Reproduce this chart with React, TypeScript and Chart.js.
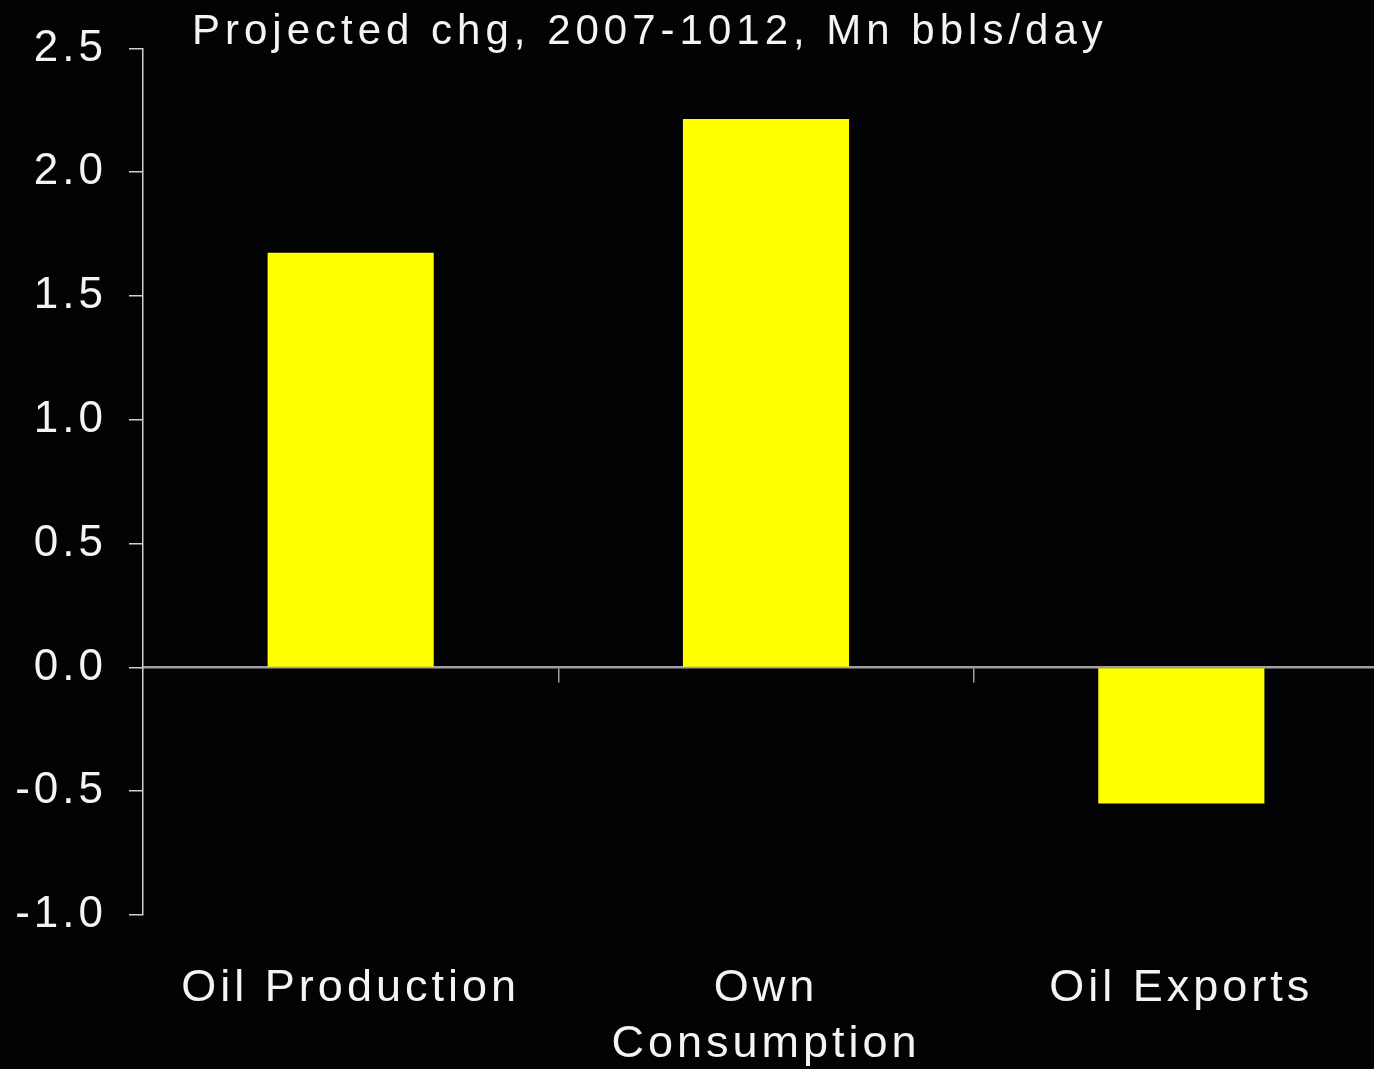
import React, { useEffect, useRef } from "react";
import { Chart, registerables } from "chart.js";

Chart.register(...registerables);

const categories: (string | string[])[] = ["Oil Production", ["Own", "Consumption"], "Oil Exports"];
const changeValues: number[] = [1.675, 2.215, -0.55];
const chartTitle = "Projected chg, 2007-1012, Mn bbls/day";
const yMin = -1.0;
const yMax = 2.5;
const yStep = 0.5;

const FONT = "'Liberation Sans', Arial, sans-serif";
const BG = "#030306";
const TEXT = "#f4f4f4";

export default function App() {
  const ref = useRef<HTMLCanvasElement | null>(null);

  useEffect(() => {
    document.body.style.margin = "0";
    document.body.style.background = BG;
    document.body.style.overflow = "hidden";
    const canvas = ref.current;
    if (!canvas) return;

    const spacingPlugin = {
      id: "spacing",
      beforeUpdate(chart: any) {
        (chart.ctx as any).letterSpacing = "4px";
      },
      beforeDraw(chart: any) {
        const ctx = chart.ctx;
        (ctx as any).letterSpacing = "4px";
        ctx.save();
        ctx.fillStyle = BG;
        ctx.fillRect(0, 0, chart.width, chart.height);
        ctx.restore();
      },
      afterDraw(chart: any) {
        const ctx = chart.ctx;
        ctx.save();
        (ctx as any).letterSpacing = "5px";
        ctx.fillStyle = TEXT;
        ctx.font = `42px ${FONT}`;
        ctx.textAlign = "left";
        ctx.textBaseline = "alphabetic";
        ctx.fillText(chartTitle, chart.chartArea.left + 49, 44);
        ctx.restore();
      },
    };

    const chart = new Chart(canvas, {
      type: "bar",
      data: {
        labels: categories as any,
        datasets: [
          {
            data: changeValues,
            backgroundColor: "#ffff00",
            borderWidth: 0,
            barPercentage: 0.4,
            categoryPercentage: 1.0,
            xAxisID: "x",
            yAxisID: "y",
          },
        ],
      },
      options: {
        animation: false,
        responsive: true,
        maintainAspectRatio: false,
        layout: { padding: { top: 48, left: 0, right: 0, bottom: 0 } },
        plugins: {
          legend: { display: false },
          tooltip: { enabled: false },
          title: { display: false },
        },
        scales: {
          x: {
            type: "category",
            position: "bottom",
            grid: { display: false, drawTicks: false },
            border: { display: false },
            ticks: {
              color: TEXT,
              font: { family: FONT, size: 45, lineHeight: 1.25 },
              padding: 45,
              maxRotation: 0,
              autoSkip: false,
            },
            afterFit: (scale: any) => {
              scale.height = 154;
            },
          },
          x2: {
            type: "category",
            labels: categories as any,
            position: { y: 0 } as any,
            offset: true,
            grid: {
              display: true,
              offset: true,
              drawOnChartArea: false,
              drawTicks: true,
              tickLength: 14,
              color: (c: any) => (c.index === 0 ? "rgba(0,0,0,0)" : "#a0a0a0"),
              lineWidth: 1.5,
            },
            border: { display: true, color: "#a0a0a0", width: 2.5 },
            ticks: { display: false },
          },
          y: {
            min: yMin,
            max: yMax,
            position: "left",
            ticks: {
              stepSize: yStep,
              color: TEXT,
              font: { family: FONT, size: 44 },
              padding: 22,
              callback: (v: any) => Number(v).toFixed(1),
            },
            grid: {
              display: true,
              drawOnChartArea: false,
              drawTicks: true,
              tickLength: 14,
              color: "#d0d0d0",
              lineWidth: 1.5,
            },
            border: { display: true, color: "#d0d0d0", width: 1.5 },
            afterFit: (scale: any) => {
              scale.width = 143;
            },
          },
        },
      },
      plugins: [spacingPlugin],
    });

    return () => chart.destroy();
  }, []);

  return (
    <div style={{ position: "fixed", left: 0, top: 0, width: 1374, height: 1069, overflow: "hidden", background: BG }}>
      <div style={{ position: "absolute", left: 0, top: 0, width: 1389, height: 1069 }}>
        <canvas ref={ref} />
      </div>
    </div>
  );
}
